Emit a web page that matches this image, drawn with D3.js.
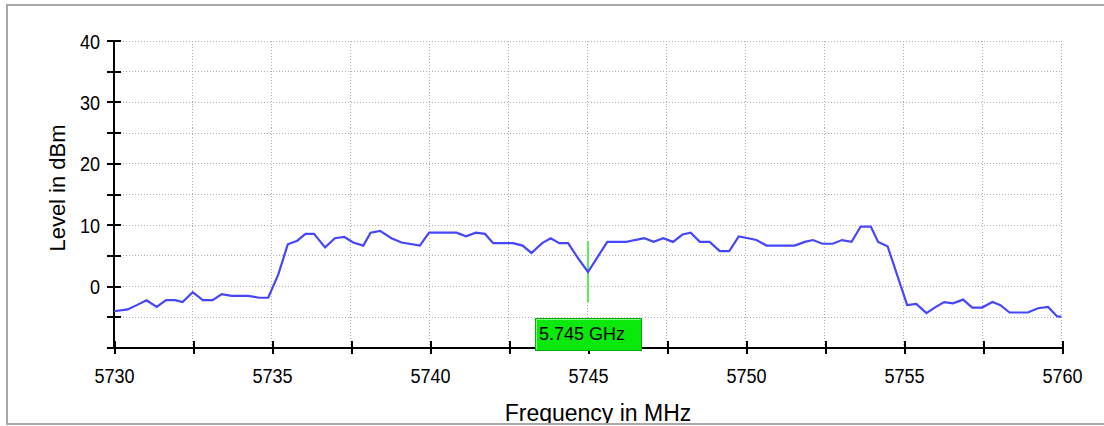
<!DOCTYPE html>
<meta charset="utf-8">
<script src="https://cdn.jsdelivr.net/npm/d3@7"></script>
<style>
body { margin: 0; background: #fff; }
text { font-family: "Liberation Sans", Arial, sans-serif; fill: #000; }
.grid line { stroke: #b0b0b0; stroke-width: 1px; stroke-dasharray: 1,2; shape-rendering: crispEdges; }
.axis path, .axis line { stroke: #000; stroke-width: 2px; shape-rendering: crispEdges; }
.trace { fill: none; stroke: #4646ff; stroke-width: 2.2px; }
</style>
<body>
<script>

// spectrum trace (MHz, dBm)
var freqs = [5730.0, 5730.43, 5730.72, 5731.03, 5731.35, 5731.65, 5731.93, 5732.17, 5732.49, 5732.81,
  5733.12, 5733.41, 5733.72, 5734.25, 5734.6, 5734.88, 5735.2, 5735.5, 5735.8, 5736.06,
  5736.33, 5736.68, 5736.99, 5737.29, 5737.57, 5737.89, 5738.12, 5738.42, 5738.78, 5739.1,
  5739.68, 5739.97, 5740.84, 5741.14, 5741.45, 5741.74, 5742.0, 5742.63, 5742.93, 5743.21,
  5743.55, 5743.82, 5744.09, 5744.37, 5744.69, 5745.0, 5745.61, 5746.22, 5746.48, 5746.78,
  5747.08, 5747.38, 5747.69, 5747.99, 5748.25, 5748.54, 5748.85, 5749.17, 5749.47, 5749.77,
  5750.07, 5750.33, 5750.65, 5751.54, 5751.86, 5752.12, 5752.42, 5752.74, 5753.04, 5753.34,
  5753.63, 5753.95, 5754.18, 5754.48, 5755.1, 5755.39, 5755.71, 5755.97, 5756.27, 5756.55,
  5756.87, 5757.16, 5757.47, 5757.8, 5758.05, 5758.34, 5758.92, 5759.24, 5759.56, 5759.84,
  5759.98];
var levels = [-4.1, -3.8, -3.1, -2.3, -3.4, -2.3, -2.3, -2.6, -1.0, -2.3,
  -2.3, -1.3, -1.6, -1.6, -1.9, -1.9, 1.9, 6.8, 7.4, 8.5,
  8.5, 6.3, 7.8, 8.0, 7.1, 6.6, 8.7, 9.0, 7.8, 7.1,
  6.6, 8.7, 8.7, 8.1, 8.7, 8.5, 7.0, 7.0, 6.6, 5.4,
  7.0, 7.8, 7.0, 7.0, 4.5, 2.3, 7.2, 7.2, 7.5, 7.8,
  7.2, 7.8, 7.2, 8.4, 8.7, 7.2, 7.2, 5.7, 5.7, 8.1,
  7.8, 7.5, 6.6, 6.6, 7.2, 7.5, 6.9, 6.9, 7.5, 7.2,
  9.7, 9.7, 7.2, 6.5, -3.1, -2.9, -4.4, -3.5, -2.6, -2.8,
  -2.2, -3.5, -3.5, -2.6, -3.1, -4.3, -4.3, -3.6, -3.4, -4.9,
  -5.0];

var yTicks = [-10, -5, 0, 5, 10, 15, 20, 25, 30, 35, 40];
var xTicks = [5730, 5732.5, 5735, 5737.5, 5740, 5742.5, 5745, 5747.5, 5750, 5752.5, 5755, 5757.5, 5760];
var markerFreq = 5745;
var markerLabel = "5.745 GHz";

var width = 1104,
    height = 426;

// tick labels in the original are a tall narrow font
var squeeze = 0.86;

var x = d3.scaleLinear().domain([5730, 5760]).range([114, 1062]);
var y = d3.scaleLinear().domain([-10, 40]).range([347.5, 40.5]);

var svg = d3.select("body").append("svg")
    .attr("width", width)
    .attr("height", height);

svg.append("clipPath").attr("id", "frame")
  .append("rect").attr("x", 7).attr("y", 5).attr("width", width).attr("height", 418);

// outer frame
svg.append("path")
    .attr("d", "M" + width + ",5H7V424H" + width)
    .style("fill", "none")
    .style("stroke", "#a8a8a8")
    .style("stroke-width", 2);

var g = svg.append("g").attr("clip-path", "url(#frame)");

// dotted grid
var grid = g.append("g").attr("class", "grid");
grid.selectAll(".h")
    .data(yTicks.filter(function(d) { return d > -10; }))
    .enter().append("line")
    .attr("x1", x(5730)).attr("x2", x(5760))
    .attr("y1", function(d) { return Math.round(y(d)) + 0.5; })
    .attr("y2", function(d) { return Math.round(y(d)) + 0.5; });
grid.selectAll(".v")
    .data(xTicks.filter(function(d) { return d > 5730; }))
    .enter().append("line")
    .attr("y1", y(40)).attr("y2", y(-10))
    .attr("x1", function(d) { return Math.round(x(d)) - 0.5; })
    .attr("x2", function(d) { return Math.round(x(d)) - 0.5; });

// axes, ticks go through the line on both sides
var yAxis = d3.axisLeft(y)
    .tickValues(yTicks)
    .tickSize(7)
    .tickFormat(function(d) { return d % 10 == 0 && d > -10 ? d : ""; });

var ya = g.append("g")
    .attr("class", "axis")
    .attr("transform", "translate(" + x(5730) + ",0)")
    .call(yAxis);
ya.select(".domain").attr("d", "M0," + y(40) + "V" + y(-10));
ya.selectAll(".tick line").attr("x1", 7);
ya.selectAll(".tick text")
    .style("font-size", "21px")
    .attr("x", -14 / squeeze)
    .attr("dy", "0.36em")
    .attr("transform", "scale(" + squeeze + ",1)");

var xAxis = d3.axisBottom(x)
    .tickValues(xTicks)
    .tickSize(6)
    .tickFormat(function(d) { return d % 5 == 0 ? d : ""; });

var xa = g.append("g")
    .attr("class", "axis")
    .attr("transform", "translate(0," + y(-10) + ")")
    .call(xAxis);
xa.select(".domain").attr("d", "M" + x(5730) + ",0H" + x(5760));
xa.selectAll(".tick line").attr("y1", -7);
xa.selectAll(".tick text")
    .style("font-size", "21px")
    .attr("y", 21)
    .attr("dy", "0.71em")
    .attr("transform", "scale(" + squeeze + ",1)");

// marker line at the selected frequency
g.append("line")
    .attr("x1", x(markerFreq)).attr("x2", x(markerFreq))
    .attr("y1", 241).attr("y2", 302)
    .style("stroke", "#5aec5a")
    .style("stroke-width", 2);

// trace
var line = d3.line()
    .x(function(d, i) { return x(freqs[i]); })
    .y(function(d) { return y(d); });

g.append("path")
    .datum(levels)
    .attr("class", "trace")
    .attr("d", line);

// marker label box
var box = g.append("g").attr("transform", "translate(" + (x(markerFreq) - 53) + ",318)");
box.append("rect")
    .attr("x", 0.5).attr("y", 0.5)
    .attr("width", 106).attr("height", 32)
    .style("fill", "#0be80b")
    .style("stroke", "#0aa80a")
    .style("stroke-width", 1);
box.append("path")
    .attr("d", "M1.5,31.5V1.5H105.5")
    .style("fill", "none")
    .style("stroke", "#7cff7c");
box.append("text")
    .attr("x", 4)
    .attr("y", 21.5)
    .style("font-size", "18px")
    .text(markerLabel);

// axis titles
g.append("text")
    .attr("transform", "translate(65,188) rotate(-90)")
    .attr("text-anchor", "middle")
    .style("font-size", "22px")
    .text("Level in dBm");

g.append("text")
    .attr("x", 598)
    .attr("y", 421)
    .attr("text-anchor", "middle")
    .style("font-size", "23px")
    .text("Frequency in MHz");

</script>
</body>
